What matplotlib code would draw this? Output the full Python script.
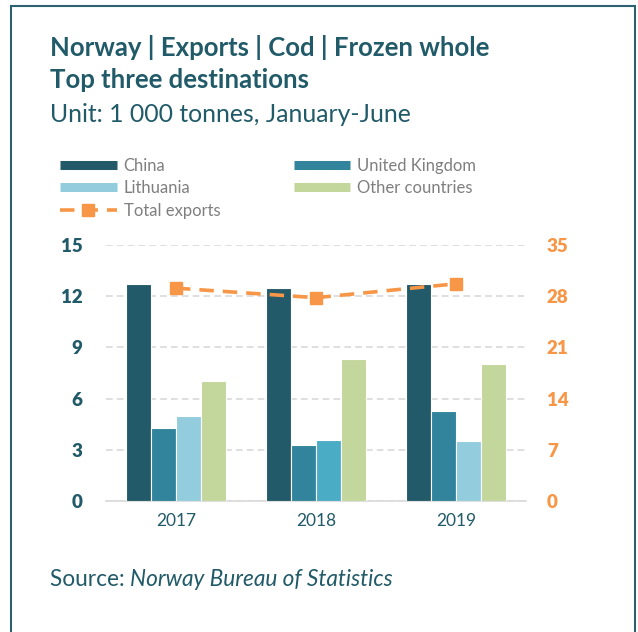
import matplotlib.pyplot as plt
import numpy as np
from matplotlib.lines import Line2D
from matplotlib.patches import Rectangle

plt.rcParams['font.family'] = ['Lato', 'DejaVu Sans']

years = ['2017', '2018', '2019']
china = [12.7, 12.5, 12.7]
uk = [4.28, 3.26, 5.29]
lithuania = [5.0, 3.57, 3.51]
other = [7.01, 8.32, 8.03]
total = [29.1, 27.8, 29.7]
left_ticks = [0, 3, 6, 9, 12, 15]
right_ticks = [0, 7, 14, 21, 28, 35]

teal = '#215A68'
orange = '#F79646'
c_china = '#225A69'
c_uk = '#31849B'
c_lit = ['#93CDDD', '#4BACC6', '#93CDDD']
c_other = '#C3D69B'

fig = plt.figure(figsize=(6.38, 6.32), dpi=100)
ax = fig.add_axes([0.1661, 0.2073, 0.6583, 0.405])

x = np.arange(len(years))
w = 0.18
kw = dict(width=w, edgecolor='white', linewidth=0.8, zorder=3)
ax.bar(x - 1.5 * w, china, color=c_china, **kw)
ax.bar(x - 0.5 * w, uk, color=c_uk, **kw)
ax.bar(x + 0.5 * w, lithuania, color=c_lit, **kw)
ax.bar(x + 1.5 * w, other, color=c_other, **kw)

ax.set_xlim(-0.5, 2.5)
ax.set_ylim(0, 15)
ax.set_yticks(left_ticks)
ax.set_yticklabels([str(v) for v in left_ticks], fontweight='heavy')
ax.set_xticks(x)
ax.set_xticklabels(years)
ax.yaxis.grid(True, color='#D9D9D9', linestyle=(0, (4, 2.5)), linewidth=1.2, zorder=0)
ax.set_axisbelow(True)
for s in ['top', 'right', 'left']:
    ax.spines[s].set_visible(False)
ax.spines['bottom'].set_color('#D9D9D9')
ax.spines['bottom'].set_linewidth(1.2)
ax.tick_params(axis='y', length=0, pad=17, labelsize=13.5, labelcolor=teal)
ax.tick_params(axis='x', length=0, pad=9, labelsize=12.5, labelcolor=teal)

ax2 = ax.twinx()
ax2.plot(x, total, color=orange, linestyle=(0, (4, 2.5)), linewidth=2.6,
         marker='s', markersize=8.5, zorder=4)
ax2.set_ylim(0, 35)
ax2.set_yticks(right_ticks)
ax2.set_yticklabels([str(v) for v in right_ticks], fontweight='heavy')
for s in ax2.spines.values():
    s.set_visible(False)
ax2.tick_params(axis='y', length=0, pad=15, labelsize=13.5, labelcolor=orange)

fig.text(50 / 638, 1 - 48 / 632, 'Norway | Exports | Cod | Frozen whole', fontsize=18.5,
         fontweight='bold', color=teal, va='center')
fig.text(50 / 638, 1 - 80 / 632, 'Top three destinations', fontsize=18.5,
         fontweight='bold', color=teal, va='center')
fig.text(50 / 638, 1 - 115 / 632, 'Unit: 1 000 tonnes, January-June', fontsize=17.8,
         color=teal, va='center')
src = fig.text(50 / 638, 1 - 580 / 632, 'Source: ', fontsize=16.3, color=teal, va='center')
fig.canvas.draw()
bb = src.get_window_extent()
fig.text(bb.x1 / 638, 1 - 580 / 632, 'Norway Bureau of Statistics', fontsize=16.3,
         color=teal, va='center', style='italic')

handles = [
    Line2D([], [], color=c_china, linewidth=6.5, solid_capstyle='butt'),
    Line2D([], [], color=c_lit[0], linewidth=6.5, solid_capstyle='butt'),
    Line2D([], [], color=orange, linewidth=2.6, linestyle=(0, (4, 2.5)), marker='s', markersize=8),
    Line2D([], [], color=c_uk, linewidth=6.5, solid_capstyle='butt'),
    Line2D([], [], color=c_other, linewidth=6.5, solid_capstyle='butt'),
]
labels = ['China', 'Lithuania', 'Total exports', 'United Kingdom', 'Other countries']
leg = fig.legend(handles, labels, ncol=2, loc='upper left',
                 bbox_to_anchor=(45 / 638, 1 - 143 / 632), frameon=False,
                 fontsize=12, handlelength=3.4, handletextpad=0.42,
                 columnspacing=4.4, labelspacing=0.38, labelcolor='#7F7F7F')

fig.add_artist(Rectangle((11 / 638, -0.05), 624 / 638, 1 - 6 / 632 + 0.05,
                         transform=fig.transFigure, fill=False,
                         edgecolor='#2E6070', linewidth=1.5))

fig.savefig('out.png', dpi=100)
